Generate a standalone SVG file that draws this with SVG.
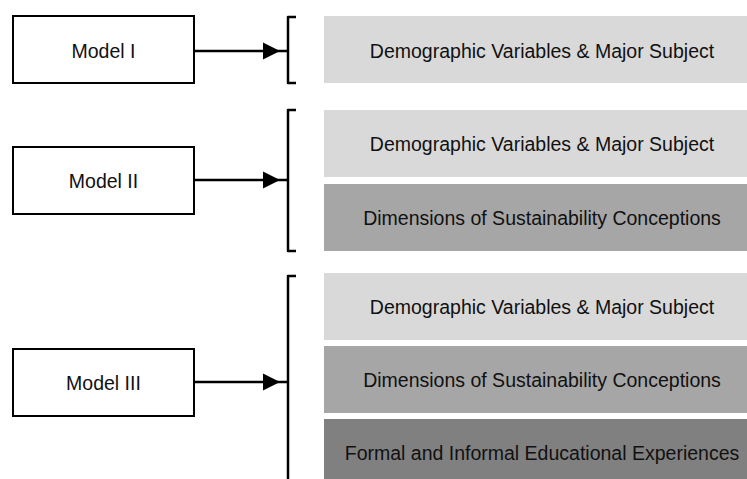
<svg xmlns="http://www.w3.org/2000/svg" width="747" height="479" viewBox="0 0 747 479">
<style>
.model rect{fill:#fff;stroke:#000;stroke-width:2}
text{font-family:"Liberation Sans",Arial,sans-serif;font-size:19.5px;fill:#111;text-anchor:middle}
.c1{fill:#d9d9d9}.c2{fill:#a6a6a6}.c3{fill:#808080}
.conn line{stroke:#000;stroke-width:2.5}
.br{fill:none;stroke:#000;stroke-width:2.5;stroke-linejoin:round}
</style>
<defs>
<marker id="ah" markerWidth="8" markerHeight="7" refX="7" refY="3.5" orient="auto" markerUnits="strokeWidth">
<path d="M0,0 L7,3.5 L0,7 z" fill="#000"/>
</marker>
</defs>
<rect width="747" height="479" fill="#fff"/>
<g id="model1" class="model"><rect x="13" y="16" width="181" height="67"/><text x="103.5" y="57.5">Model I</text></g>
<g id="model2" class="model"><rect x="13" y="147" width="181" height="67"/><text x="103.5" y="187.5">Model II</text></g>
<g id="model3" class="model"><rect x="13" y="349" width="181" height="67"/><text x="103.5" y="389.5">Model III</text></g>
<g id="m1b1"><rect class="c1" x="324" y="16" width="436" height="67"/><text x="542" y="57.5">Demographic Variables &amp; Major Subject</text></g>
<g id="m2b1"><rect class="c1" x="324" y="110" width="436" height="67"/><text x="542" y="151">Demographic Variables &amp; Major Subject</text></g>
<g id="m2b2"><rect class="c2" x="324" y="184" width="436" height="67"/><text x="542" y="225">Dimensions of Sustainability Conceptions</text></g>
<g id="m3b1"><rect class="c1" x="324" y="273" width="436" height="67"/><text x="542" y="314">Demographic Variables &amp; Major Subject</text></g>
<g id="m3b2"><rect class="c2" x="324" y="346" width="436" height="67"/><text x="542" y="387">Dimensions of Sustainability Conceptions</text></g>
<g id="m3b3"><rect class="c3" x="324" y="419" width="436" height="67"/><text x="542" y="460">Formal and Informal Educational Experiences</text></g>
<g id="connectors" class="conn">
<line x1="194" y1="51" x2="280" y2="51" marker-end="url(#ah)"/>
<line x1="194" y1="180" x2="280" y2="180" marker-end="url(#ah)"/>
<line x1="194" y1="382" x2="280" y2="382" marker-end="url(#ah)"/>
<path class="br" d="M296,17 H288 V83 H296 M280,51 H288"/>
<path class="br" d="M296,110 H288 V251 H296 M280,180 H288"/>
<path class="br" d="M296,276 H288 V482 M280,382 H288"/>
</g>
</svg>
